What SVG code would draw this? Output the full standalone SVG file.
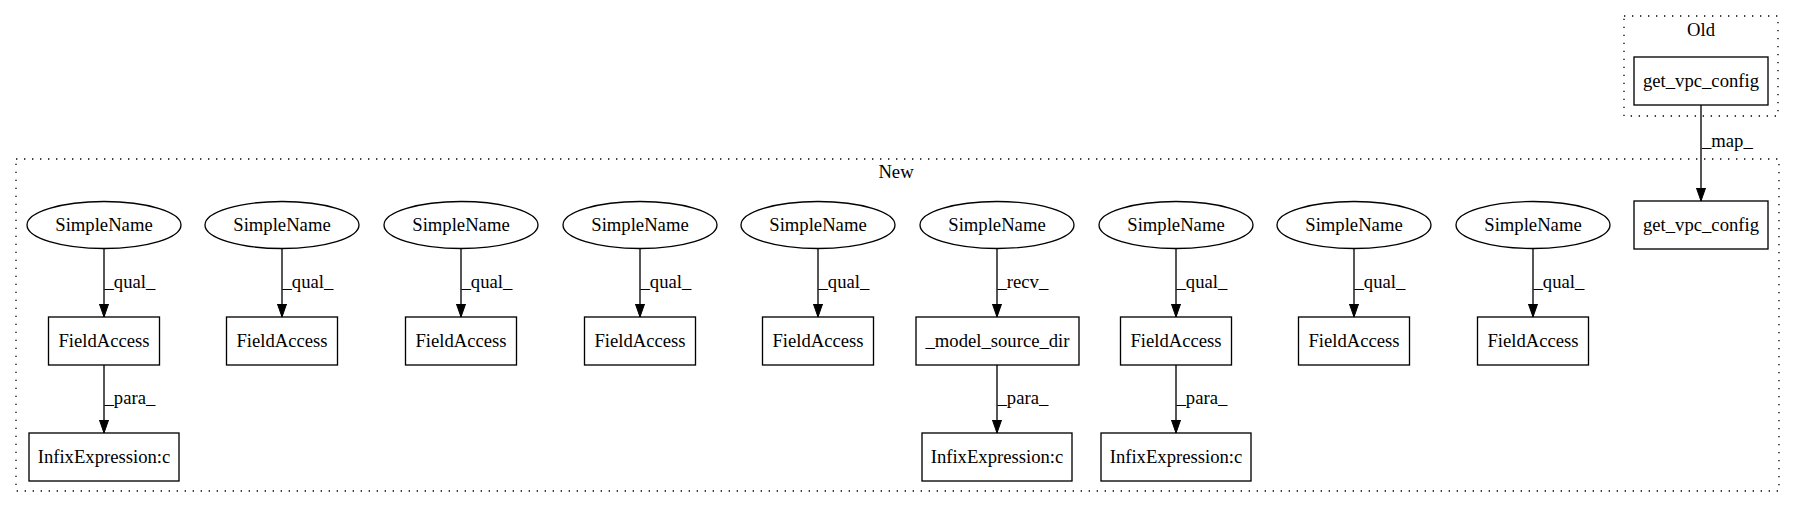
<svg xmlns="http://www.w3.org/2000/svg" width="1795" height="508" viewBox="0 0 1795 508">
<style>
.t{font-family:'Liberation Serif','Times New Roman',Times,'DejaVu Serif',serif;font-size:18.67px;fill:#000}
.c{text-anchor:middle}
.cl{fill:none;stroke:#000;stroke-width:1.33;stroke-dasharray:1.33,6.67}
.n{fill:none;stroke:#000;stroke-width:1.33}
.e{fill:none;stroke:#000;stroke-width:1.33}
</style>
<defs>
<marker id="ah" markerWidth="14" markerHeight="10" refX="13.3" refY="4.67" orient="auto" markerUnits="userSpaceOnUse">
<path d="M0,0 L13.3,4.67 L0,9.33 Z" fill="#000" stroke="#000" stroke-width="1"/>
</marker>
</defs>
<rect width="1795" height="508" fill="#fff"/>
<g class="t" font-family="Liberation Serif, Times New Roman, serif" font-size="18.67">
<g id="cluster_old">
<rect class="cl" x="1624" y="16" width="154" height="100"/>
<text class="c" x="1701" y="36">Old</text>
</g>
<g id="cluster_new">
<rect class="cl" x="16" y="159" width="1763" height="332"/>
<text class="c" x="896" y="178">New</text>
</g>
<g id="old_get_vpc_config"><rect class="n" x="1634" y="57" width="134" height="48"/><text class="c" x="1701" y="87">get_vpc_config</text></g>
<g id="new_get_vpc_config"><rect class="n" x="1634" y="201" width="134" height="48"/><text class="c" x="1701" y="231">get_vpc_config</text></g>
<g id="sn1"><ellipse class="n" cx="104" cy="225" rx="77" ry="23.5"/><text class="c" x="104" y="231">SimpleName</text></g>
<g id="sn2"><ellipse class="n" cx="282" cy="225" rx="77" ry="23.5"/><text class="c" x="282" y="231">SimpleName</text></g>
<g id="sn3"><ellipse class="n" cx="461" cy="225" rx="77" ry="23.5"/><text class="c" x="461" y="231">SimpleName</text></g>
<g id="sn4"><ellipse class="n" cx="640" cy="225" rx="77" ry="23.5"/><text class="c" x="640" y="231">SimpleName</text></g>
<g id="sn5"><ellipse class="n" cx="818" cy="225" rx="77" ry="23.5"/><text class="c" x="818" y="231">SimpleName</text></g>
<g id="sn6"><ellipse class="n" cx="997" cy="225" rx="77" ry="23.5"/><text class="c" x="997" y="231">SimpleName</text></g>
<g id="sn7"><ellipse class="n" cx="1176" cy="225" rx="77" ry="23.5"/><text class="c" x="1176" y="231">SimpleName</text></g>
<g id="sn8"><ellipse class="n" cx="1354" cy="225" rx="77" ry="23.5"/><text class="c" x="1354" y="231">SimpleName</text></g>
<g id="sn9"><ellipse class="n" cx="1533" cy="225" rx="77" ry="23.5"/><text class="c" x="1533" y="231">SimpleName</text></g>
<g id="fa1"><rect class="n" x="48.5" y="317" width="111" height="48"/><text class="c" x="104" y="347">FieldAccess</text></g>
<g id="fa2"><rect class="n" x="226.5" y="317" width="111" height="48"/><text class="c" x="282" y="347">FieldAccess</text></g>
<g id="fa3"><rect class="n" x="405.5" y="317" width="111" height="48"/><text class="c" x="461" y="347">FieldAccess</text></g>
<g id="fa4"><rect class="n" x="584.5" y="317" width="111" height="48"/><text class="c" x="640" y="347">FieldAccess</text></g>
<g id="fa5"><rect class="n" x="762.5" y="317" width="111" height="48"/><text class="c" x="818" y="347">FieldAccess</text></g>
<g id="msd"><rect class="n" x="916" y="317" width="163" height="48"/><text class="c" x="997.5" y="347">_model_source_dir</text></g>
<g id="fa7"><rect class="n" x="1120.5" y="317" width="111" height="48"/><text class="c" x="1176" y="347">FieldAccess</text></g>
<g id="fa8"><rect class="n" x="1298.5" y="317" width="111" height="48"/><text class="c" x="1354" y="347">FieldAccess</text></g>
<g id="fa9"><rect class="n" x="1477.5" y="317" width="111" height="48"/><text class="c" x="1533" y="347">FieldAccess</text></g>
<g id="ie1"><rect class="n" x="29" y="433" width="150" height="48"/><text class="c" x="104" y="463">InfixExpression:c</text></g>
<g id="ie2"><rect class="n" x="922" y="433" width="150" height="48"/><text class="c" x="997" y="463">InfixExpression:c</text></g>
<g id="ie3"><rect class="n" x="1101" y="433" width="150" height="48"/><text class="c" x="1176" y="463">InfixExpression:c</text></g>
<g id="edges">
<path class="e" d="M1701,105 L1701,201" marker-end="url(#ah)"/>
<text x="1702" y="147">_map_</text>
<path class="e" d="M104,249 L104,317" marker-end="url(#ah)"/>
<text x="104.5" y="288">_qual_</text>
<path class="e" d="M282,249 L282,317" marker-end="url(#ah)"/>
<text x="282.5" y="288">_qual_</text>
<path class="e" d="M461,249 L461,317" marker-end="url(#ah)"/>
<text x="461.5" y="288">_qual_</text>
<path class="e" d="M640,249 L640,317" marker-end="url(#ah)"/>
<text x="640.5" y="288">_qual_</text>
<path class="e" d="M818,249 L818,317" marker-end="url(#ah)"/>
<text x="818.5" y="288">_qual_</text>
<path class="e" d="M997,249 L997,317" marker-end="url(#ah)"/>
<text x="997.5" y="288">_recv_</text>
<path class="e" d="M1176,249 L1176,317" marker-end="url(#ah)"/>
<text x="1176.5" y="288">_qual_</text>
<path class="e" d="M1354,249 L1354,317" marker-end="url(#ah)"/>
<text x="1354.5" y="288">_qual_</text>
<path class="e" d="M1533,249 L1533,317" marker-end="url(#ah)"/>
<text x="1533.5" y="288">_qual_</text>
<path class="e" d="M104,365 L104,433" marker-end="url(#ah)"/>
<text x="104.5" y="404">_para_</text>
<path class="e" d="M997,365 L997,433" marker-end="url(#ah)"/>
<text x="997.5" y="404">_para_</text>
<path class="e" d="M1176,365 L1176,433" marker-end="url(#ah)"/>
<text x="1176.5" y="404">_para_</text>
</g>
</g>
</svg>
